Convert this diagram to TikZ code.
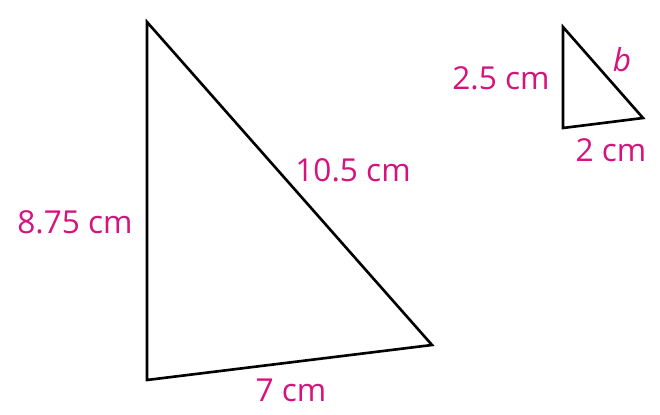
\documentclass[tikz,border=0pt]{standalone}
\usepackage{fontspec}
\setmainfont{Open Sans}
\usepackage{xcolor}
\usetikzlibrary{arrows.meta}
\definecolor{lblmag}{RGB}{214,18,126}

\begin{document}
\begin{tikzpicture}[x=0.02cm,y=-0.02cm,
lbl/.style={text=lblmag,font=\fontsize{18}{22}\selectfont,inner sep=0pt},
side/.style={line width=1.5pt,line join=miter}]
\useasboundingbox (0,0) rectangle (660,415);
% big triangle
\coordinate (A) at (147,22);
\coordinate (B) at (147,380);
\coordinate (C) at (432,345);
\draw[side](A)--(B)--(C)--cycle;
% small triangle
\coordinate (D) at (563,27);
\coordinate (E) at (563,128);
\coordinate (F) at (643,118);
\draw[side](D)--(E)--(F)--cycle;
\node[lbl] (ab) at (75,222) {8.75 cm};
\node[lbl] (ac) at (353,170) {10.5 cm};
\node[lbl] (bc) at (291,390) {7 cm};
\node[lbl] (de) at (501,78) {2.5 cm};
\node[lbl] (df) at (622,60) {\itshape b};
\node[lbl] (ef) at (611,150) {2 cm};
\end{tikzpicture}
\end{document}
